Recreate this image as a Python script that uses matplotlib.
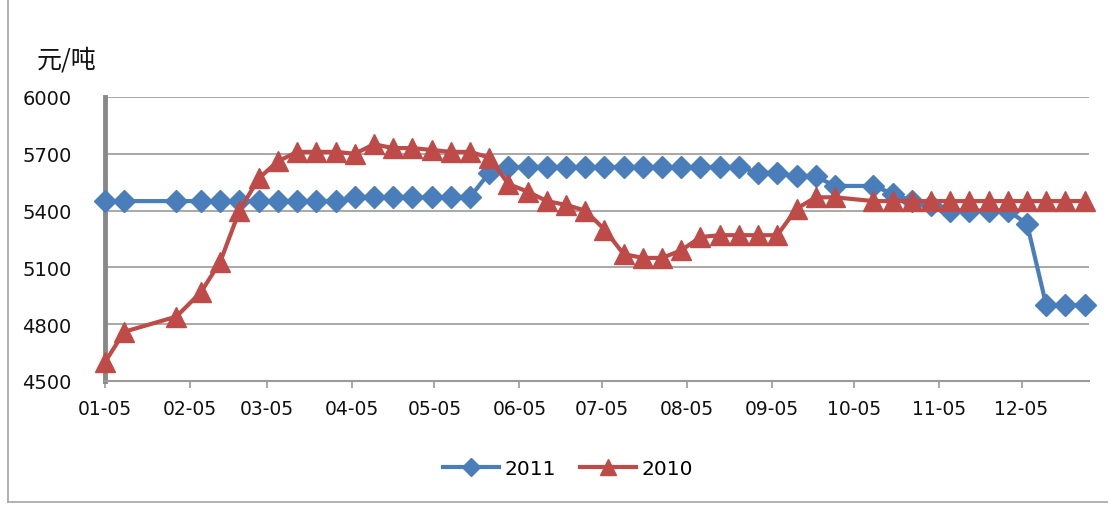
import pandas as pd
import matplotlib
matplotlib.use("Agg")
import matplotlib.pyplot as plt
import matplotlib.dates as mdates
from matplotlib.lines import Line2D

plt.rcParams['font.family'] = ['DejaVu Sans']

# weekly dates (shared by both series), shown as month-day
dates = ['01-05', '01-12', '01-31', '02-09', '02-16', '02-23', '03-02', '03-09',
         '03-16', '03-23', '03-30', '04-06', '04-13', '04-20', '04-27', '05-04',
         '05-11', '05-18', '05-25', '06-01', '06-08', '06-15', '06-22', '06-29',
         '07-06', '07-13', '07-20', '07-27', '08-03', '08-10', '08-17', '08-24',
         '08-31', '09-07', '09-14', '09-21', '09-28', '10-12', '10-19', '10-26',
         '11-02', '11-09', '11-16', '11-23', '11-30', '12-07', '12-14', '12-21',
         '12-28']

price_2011 = [5450, 5450, 5450, 5450, 5450, 5450, 5450, 5450,
              5450, 5450, 5450, 5470, 5470, 5470, 5470, 5470,
              5470, 5470, 5600, 5630, 5630, 5630, 5630, 5630,
              5630, 5630, 5630, 5630, 5630, 5630, 5630, 5630,
              5600, 5600, 5580, 5580, 5530, 5530, 5490, 5450,
              5430, 5400, 5400, 5400, 5400, 5330, 4900, 4900,
              4900]

price_2010 = [4600, 4760, 4840, 4970, 5130, 5400, 5570, 5660,
              5710, 5710, 5710, 5700, 5750, 5730, 5730, 5720,
              5710, 5710, 5680, 5540, 5500, 5450, 5430, 5400,
              5300, 5170, 5150, 5150, 5190, 5260, 5270, 5270,
              5270, 5270, 5410, 5470, 5470, 5450, 5450, 5450,
              5450, 5450, 5450, 5450, 5450, 5450, 5450, 5450,
              5450]

month_ticks = ['01-05', '02-05', '03-05', '04-05', '05-05', '06-05',
               '07-05', '08-05', '09-05', '10-05', '11-05', '12-05']

x = pd.to_datetime(['2011-' + d for d in dates])
tick_x = pd.to_datetime(['2011-' + d for d in month_ticks])

blue = '#4A7EBB'
red = '#BE4B48'
grid_c = '#9A9A9A'

fig = plt.figure(figsize=(11.08, 5.06), dpi=100)
ax = fig.add_axes([0.0948, 0.2451, 0.8881, 0.5613])

ax.plot(x, price_2011, color=blue, lw=3, marker='D', ms=11.5, zorder=3,
        clip_on=False, label='2011')
ax.plot(x, price_2010, color=red, lw=3, marker='^', ms=15, zorder=4,
        clip_on=False, label='2010')

x0 = mdates.date2num(pd.Timestamp('2011-01-05'))
ax.set_xlim(x0, x0 + 358.6)
ax.set_ylim(4500, 6000)
ax.set_yticks([4500, 4800, 5100, 5400, 5700, 6000])
ax.set_xticks(tick_x)
ax.set_xticklabels(month_ticks)

ax.grid(axis='y', color=grid_c, lw=1.2)
ax.set_axisbelow(True)
for s in ['top', 'right']:
    ax.spines[s].set_visible(False)
ax.spines['left'].set_color('#888888')
ax.spines['left'].set_linewidth(3.5)
ax.spines['bottom'].set_color(grid_c)
ax.spines['bottom'].set_linewidth(1.5)
ax.tick_params(axis='y', length=0, pad=24, labelsize=14, colors='#111111')
ax.tick_params(axis='x', length=5, width=1.2, color=grid_c, pad=8,
               labelsize=13.5, labelcolor='#111111')

fig.text(37 / 1108, 1 - 61 / 506, '元/吨', fontsize=18, va='center',
         family=['Noto Sans CJK SC', 'DejaVu Sans'], color='#111111')

h1 = Line2D([], [], color=blue, lw=3, marker='D', ms=9)
h2 = Line2D([], [], color=red, lw=3, marker='^', ms=12)
fig.legend([h1, h2], ['2011', '2010'], loc='center',
           bbox_to_anchor=(568 / 1108, 1 - 470 / 506), ncol=2, frameon=False,
           fontsize=14.5, handlelength=2.8, handletextpad=0.25,
           columnspacing=1.2)

# chart frame
fig.add_artist(Line2D([8 / 1108, 8 / 1108], [0.006, 1], color='#A6A6A6',
                      lw=1.2, transform=fig.transFigure))
fig.add_artist(Line2D([8 / 1108, 1], [0.006, 0.006], color='#A6A6A6',
                      lw=1.2, transform=fig.transFigure))

fig.savefig('out.png', dpi=100)
